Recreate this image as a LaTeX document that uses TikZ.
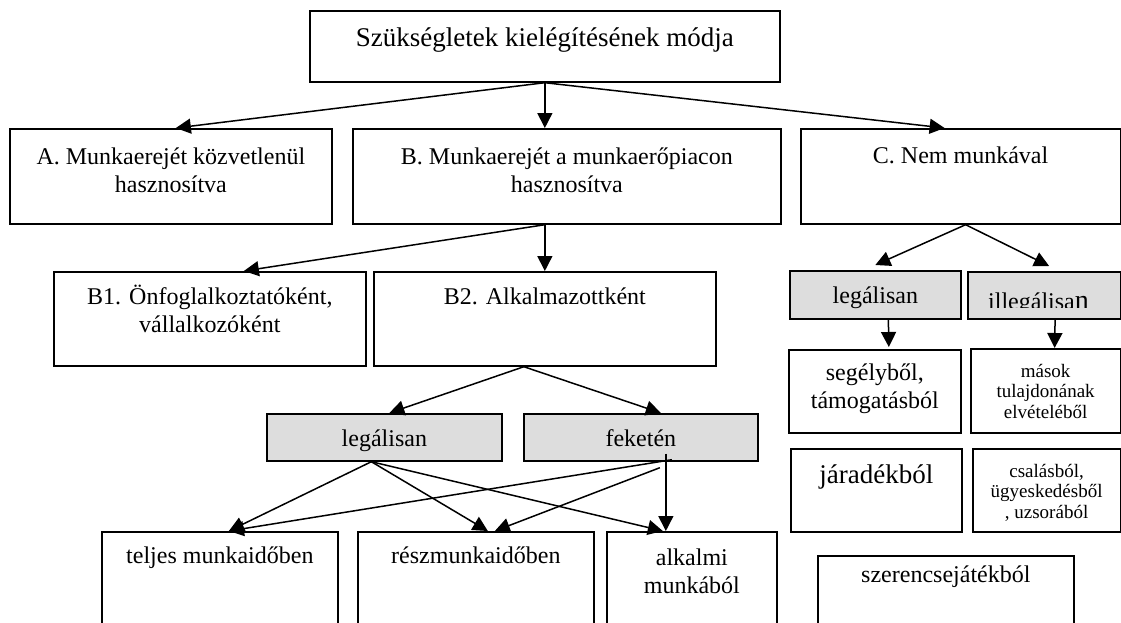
\documentclass[tikz,border=0pt]{standalone}
\usepackage{fontspec}
\setmainfont{Liberation Serif}
\usetikzlibrary{positioning}
\usetikzlibrary{arrows.meta}

\definecolor{boxgray}{RGB}{221,221,221}
\tikzset{
  box/.style={draw, line width=1.7pt, anchor=north west, inner sep=0pt},
  graybox/.style={box, fill=boxgray},
  lbl/.style={align=center, inner sep=0pt, font=\fontsize{24}{28}\selectfont},
  smalllbl/.style={lbl, font=\fontsize{19}{20.5}\selectfont},
  biglbl/.style={lbl, font=\fontsize{27}{30}\selectfont},
  arr/.style={-{Triangle[length=15pt,width=15pt]}, line width=1.5pt}
}

\begin{document}
\begin{tikzpicture}[x=1pt,y=-1pt]
\useasboundingbox (0,0) rectangle (1121,622);
\clip (0,0) rectangle (1121,622);
\fill[white] (0,0) rectangle (1121,622);

\node[box, minimum width=470pt, minimum height=71pt] (need) at (309,10) {};
\node[biglbl, below=36pt of need.north, anchor=base] (needT) {Szükségletek kielégítésének módja};

\node[box, minimum width=322pt, minimum height=95pt] (dirA) at (9,128) {};
\node[box, minimum width=428pt, minimum height=95pt] (mktB) at (352,128) {};
\node[box, minimum width=319.5pt, minimum height=95pt] (nonC) at (800,128) {};
\node[lbl, below=64pt of dirA.north, anchor=base] (dirAT) {A. Munkaerejét közvetlenül\\hasznosítva};
\node[lbl, below=64pt of mktB.north, anchor=base] (mktBT) {B. Munkaerejét a munkaerőpiacon\\hasznosítva};
\node[lbl, below=35pt of nonC.north, anchor=base] (nonCT) {C. Nem munkával};

\node[box, minimum width=312pt, minimum height=94pt] (selfB) at (53,271) {};
\node[box, minimum width=342pt, minimum height=94pt] (empB) at (373,271) {};
\node[lbl, below=61pt of selfB.north, anchor=base] (selfBT) {B1. Önfoglalkoztatóként,\\vállalkozóként};
\node[lbl, below=33pt of empB.north, anchor=base] (empBT) {B2. Alkalmazottként};

\node[graybox, minimum width=235pt, minimum height=47pt] (legalB) at (266,413) {};
\node[graybox, minimum width=234pt, minimum height=47pt] (blackB) at (523,413) {};
\node[lbl, above=15pt of legalB.south, anchor=base] (legalBT) {legálisan};
\node[lbl, above=15pt of blackB.south, anchor=base] (blackBT) {feketén};

\node[box, minimum width=236pt, minimum height=120pt] (full) at (101,531) {};
\node[box, minimum width=236pt, minimum height=120pt] (part) at (357,531) {};
\node[box, minimum width=170pt, minimum height=120pt] (casual) at (606,531) {};
\node[lbl, below=32pt of full.north, anchor=base] (fullT) {teljes munkaidőben};
\node[lbl, below=32pt of part.north, anchor=base] (partT) {részmunkaidőben};
\node[lbl, below=62pt of casual.north, anchor=base] (casualT) {alkalmi\\munkából};

\node[graybox, minimum width=171pt, minimum height=48pt] (legalC) at (789,270) {};
\node[graybox, minimum width=152.5pt, minimum height=47pt] (illegalC) at (967,271) {};
\node[lbl, above=16pt of legalC.south, anchor=base] (legalCT) {legálisan};
\begin{scope}
  \clip (967,271) rectangle (1121,307);
  \node[lbl, anchor=base west] (illegalCT) at (988,309) {illegálisa{\fontsize{28}{28}\selectfont n}};
\end{scope}

\node[box, minimum width=172pt, minimum height=83pt] (aid) at (788,349) {};
\node[box, minimum width=149.5pt, minimum height=84pt] (theft) at (970,348) {};
\node[box, minimum width=171pt, minimum height=83pt] (annuity) at (790,448) {};
\node[box, minimum width=147.5pt, minimum height=83pt] (fraud) at (972,448) {};
\node[box, minimum width=256pt, minimum height=100pt] (gamble) at (817,555) {};
\node[lbl, below=59pt of aid.north, anchor=base] (aidT) {segélyből,\\támogatásból};
\node[smalllbl, below=70pt of theft.north, anchor=base] (theftT) {mások\\tulajdonának\\elvételéből};
\node[biglbl, below=35pt of annuity.north, anchor=base] (annuityT) {járadékból};
\node[smalllbl, below=70pt of fraud.north, anchor=base] (fraudT) {csalásból,\\ügyeskedésből\\, uzsorából};
\node[lbl, below=27pt of gamble.north, anchor=base] (gambleT) {szerencsejátékból};

\draw[arr] (need.south) -- ([xshift=5pt]dirA.north);
\draw[arr] (need.south) -- (need.south |- mktB.north);
\draw[arr] (need.south) -- ([xshift=-16pt]nonC.north);

\draw[arr] (empB.north |- mktB.south) -- ([xshift=34pt]selfB.north);
\draw[arr] (empB.north |- mktB.south) -- (empB.north);

\draw[arr] ([xshift=-21pt]empB.south) -- ([xshift=5pt]legalB.north);
\draw[arr] ([xshift=-21pt]empB.south) -- ([xshift=20pt]blackB.north);

\draw[arr] ([xshift=-13pt]legalB.south) -- ([xshift=9pt]full.north);
\draw[arr] ([xshift=-13pt]legalB.south) -- ([xshift=12pt]part.north);
\draw[arr] ([xshift=-13pt]legalB.south) -- ([xshift=-29pt]casual.north);
\draw[arr] ([xshift=31pt,yshift=2pt]blackB.south) -- ([xshift=9pt]full.north);
\draw[arr] ([xshift=19pt,yshift=-6pt]blackB.south) -- ([xshift=19pt]part.north);
\draw[arr] ([xshift=25pt,yshift=8pt]blackB.south) -- ([xshift=-26pt]casual.north);

\draw[arr] ([xshift=5pt]nonC.south) -- ([yshift=5pt]legalC.north);
\draw[arr] ([xshift=5pt]nonC.south) -- ([xshift=5pt,yshift=5pt]illegalC.north);
\draw[arr] ([xshift=13pt]legalC.south) -- ([xshift=14pt,yshift=2pt]aid.north);
\draw[arr] ([xshift=11pt]illegalC.south) -- ([xshift=9pt]theft.north);
\end{tikzpicture}
\end{document}
